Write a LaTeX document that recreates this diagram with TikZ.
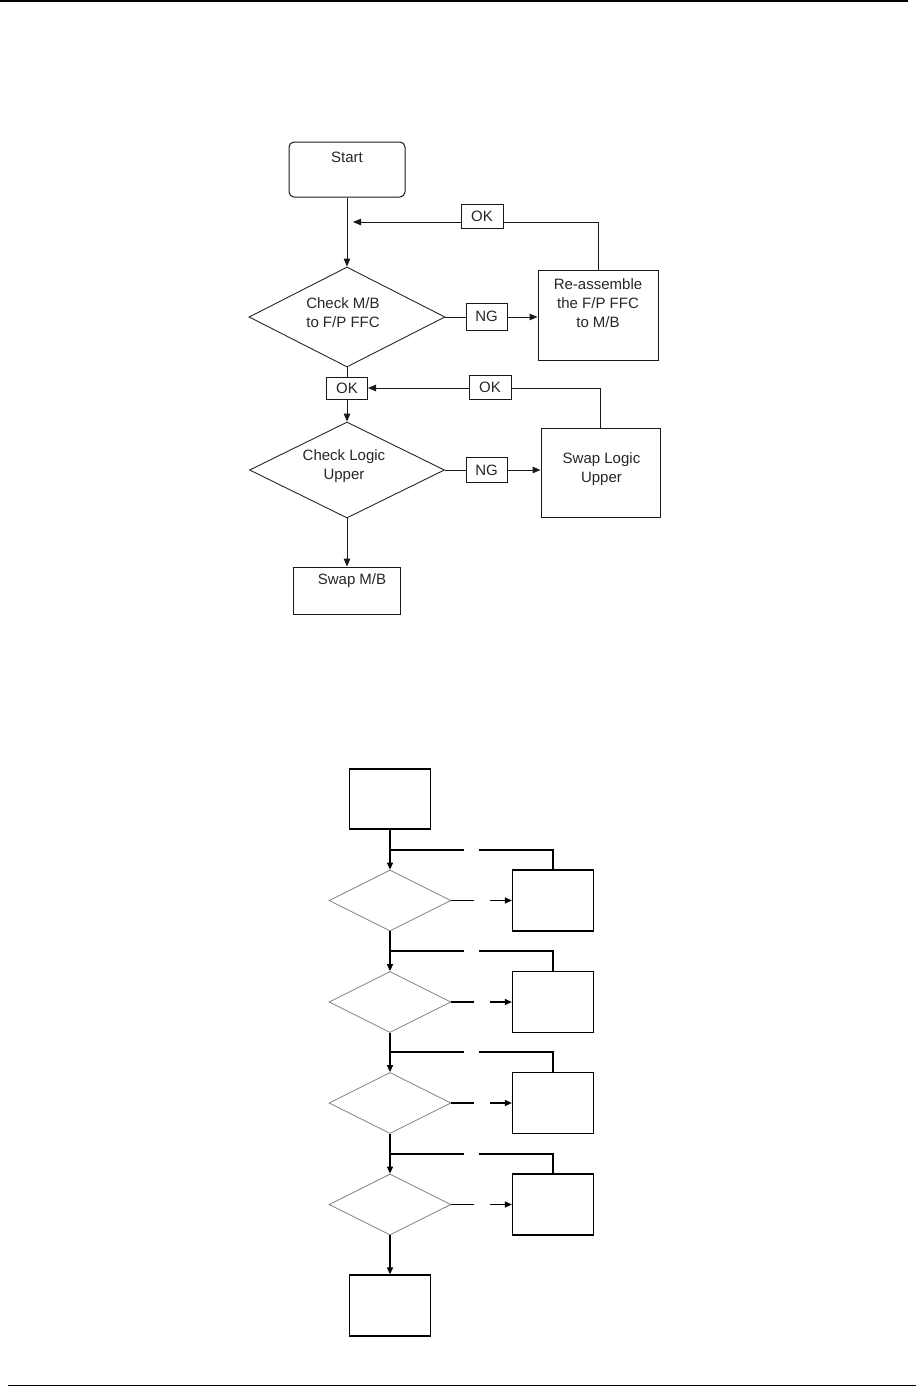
\documentclass[tikz,border=0pt]{standalone}
\usepackage{fontspec}
\setmainfont{Liberation Sans}
\usetikzlibrary{shapes.geometric,arrows.meta}
\begin{document}
\begin{tikzpicture}[x=1pt,y=-1pt,
  txt/.style={font=\fontsize{15}{19}\selectfont, align=center, inner sep=0pt, text=black!85},
  tbox/.style={draw=black!90, line width=1pt, inner sep=0pt},
  tdia/.style={draw=black!85, line width=0.9pt, diamond, inner sep=0pt},
  lblbox/.style={draw=black!90, line width=1pt, inner sep=0pt, font=\fontsize{15}{19}\selectfont, text=black!85},
  tline/.style={draw=black!90, line width=1pt},
  tarr/.style={tline, -{Triangle[length=8pt,width=6.5pt]}},
  bbox/.style={draw=black, line width=1.3pt, inner sep=0pt, minimum width=81pt, minimum height=61pt},
  bdia/.style={draw=black!50, line width=0.8pt, diamond, inner sep=0pt, minimum width=122pt, minimum height=61pt},
  blank/.style={inner sep=0pt, minimum height=2pt},
  bline/.style={draw=black, line width=1.2pt},
  barr/.style={bline, -{Triangle[length=7pt,width=6pt]}},
  rule/.style={draw=black, line width=1.8pt}
]
\useasboundingbox (0,0) rectangle (916,1387);
% page rules
\coordinate (r1a) at (0,1); \coordinate (r1b) at (908,1);
\coordinate (r2a) at (8,1385.5); \coordinate (r2b) at (916,1385.5);
\draw[rule] (r1a) -- (r1b);
\draw[rule] (r2a) -- (r2b);

% ---------------- top flowchart ----------------
\node[tbox, rounded corners=5pt, minimum width=116pt, minimum height=55pt] (start) at (347,169.5) {};
\node[txt] at ([yshift=12.5pt]start.center) {Start};
\node[tdia, minimum width=196pt, minimum height=100pt] (d1) at (347,317) {};
\node[txt] at ([xshift=-4pt,yshift=4pt]d1.center) {Check M/B\\to F/P FFC};
\node[lblbox, minimum width=42pt, minimum height=24pt] (ok1) at (482,216.5) {OK};
\node[lblbox, minimum width=41pt, minimum height=27pt] (ng1) at (486.5,316.5) {NG};
\node[tbox, minimum width=120pt, minimum height=90pt] (re) at (598,315) {};
\node[txt] at ([yshift=12pt]re.center) {Re-assemble\\the F/P FFC\\to M/B};
\node[lblbox, minimum width=41pt, minimum height=22pt] (okL) at (347,388) {OK};
\node[lblbox, minimum width=42pt, minimum height=24pt] (okR) at (490,387) {OK};
\node[tdia, minimum width=195pt, minimum height=96pt] (d2) at (347,470) {};
\node[txt] at ([xshift=-3pt,yshift=4pt]d2.center) {Check Logic\\Upper};
\node[lblbox, minimum width=41pt, minimum height=25pt] (ng2) at (486.5,470) {NG};
\node[tbox, minimum width=119pt, minimum height=89pt] (sl) at (600.5,472.5) {};
\node[txt] at ([xshift=1pt,yshift=3pt]sl.center) {Swap Logic\\Upper};
\node[tbox, minimum width=107pt, minimum height=47pt] (smb) at (347,590.5) {};
\node[txt] at ([xshift=5pt,yshift=9.5pt]smb.center) {Swap M/B};

\coordinate (j1) at (353,222);
\draw[tarr] (start.south) -- (d1.north);
\draw[tline] (re.north) |- (ok1.east |- j1);
\draw[tarr] (ok1.west |- j1) -- (j1);
\draw[tline] (d1.east) -- (ng1.west |- d1.east);
\draw[tarr] (ng1.east |- d1.east) -- (re.west |- d1.east);
\draw[tline] (d1.south) -- (okL.north);
\draw[tarr] (okL.south) -- (d2.north);
\draw[tline] (sl.north) |- (okR.east |- okL.east);
\draw[tarr] (okR.west |- okL.east) -- (okL.east);
\draw[tline] (d2.east) -- (ng2.west);
\draw[tarr] (ng2.east) -- (sl.west |- ng2.east);
\draw[tarr] (d2.south) -- (smb.north);

% ---------------- bottom flowchart ----------------
\node[bbox, minimum height=60pt] (tb) at (390,799) {};
\foreach \i/\m/\h in {1/900.5/850, 2/1002/951, 3/1103/1052, 4/1204.5/1154}{
  \node[bdia] (bd\i) at (390,\m) {};
  \node[bbox] (bb\i) at (553,\m) {};
  \node[blank, minimum width=15pt] (ga\i) at (471.5,\h) {};
  \node[blank, minimum width=16pt] (gb\i) at (482,\m) {};
  \draw[bline] (bb\i.north) |- (ga\i.east);
  \draw[bline] (ga\i.west) -- (tb.south |- ga\i.west);
  \draw[bline] (bd\i.east) -- (gb\i.west);
  \draw[barr] (gb\i.east) -- (bb\i.west);
}
\node[bbox] (be) at (390,1305.5) {};
\draw[barr] (tb.south) -- (bd1.north);
\draw[barr] (bd1.south) -- (bd2.north);
\draw[barr] (bd2.south) -- (bd3.north);
\draw[barr] (bd3.south) -- (bd4.north);
\draw[barr] (bd4.south) -- (be.north);
\end{tikzpicture}
\end{document}
